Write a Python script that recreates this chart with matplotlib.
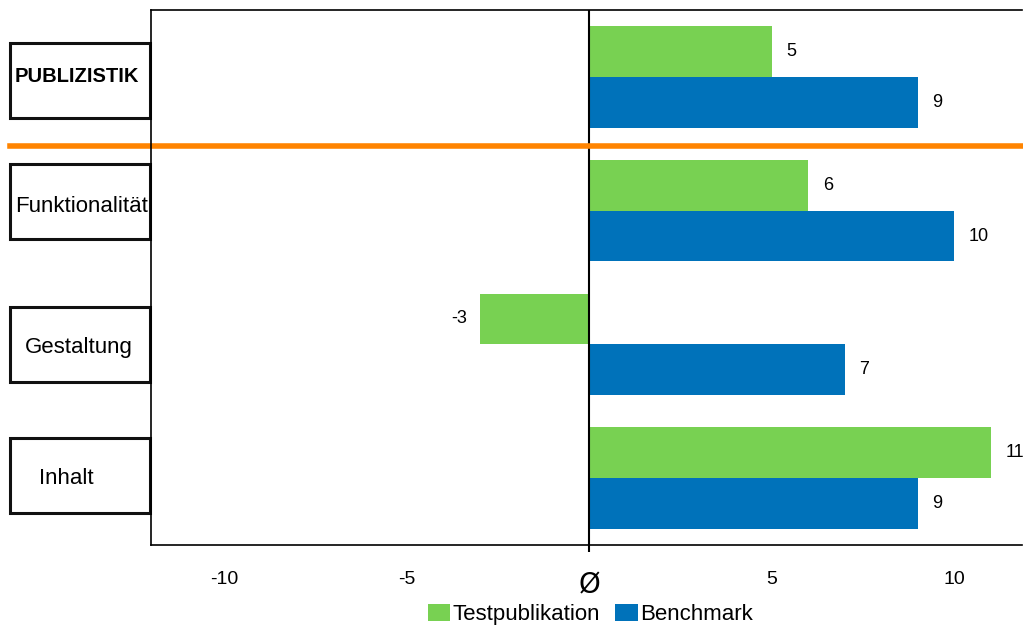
import matplotlib.pyplot as plt
from matplotlib.patches import Rectangle

categories = ["PUBLIZISTIK", "Funktionalität", "Gestaltung", "Inhalt"]
testpublikation = [5, 6, -3, 11]
benchmark = [9, 10, 7, 9]
xticks = [-10, -5, 0, 5, 10]
xticklabels = ["-10", "-5", "Ø", "5", "10"]

green = "#78D152"
blue = "#0072BA"
orange = "#FF8400"

plt.rcParams["font.family"] = ["Liberation Sans", "DejaVu Sans"]

W, H = 1023, 630
fig = plt.figure(figsize=(W / 100, H / 100), dpi=100)
ax = fig.add_axes([151 / W, 1 - 545 / H, 871 / W, 535 / H])

h = 0.38
ypos = list(range(len(categories)))
ax.barh([y - h / 2 for y in ypos], testpublikation, height=h, color=green, label="Testpublikation")
ax.barh([y + h / 2 for y in ypos], benchmark, height=h, color=blue, label="Benchmark")

# value labels
for y, v in zip(ypos, testpublikation):
    if v >= 0:
        ax.text(v + 0.4, y - h / 2, str(v), va="center", ha="left", fontsize=13)
    else:
        ax.text(v - 0.35, y - h / 2, str(v), va="center", ha="right", fontsize=13)
for y, v in zip(ypos, benchmark):
    ax.text(v + 0.4, y + h / 2, str(v), va="center", ha="left", fontsize=13)

ax.set_xlim(-12, 11.85)
ax.set_ylim(3.5, -0.5)
ax.axvline(0, color="black", lw=1.5)

ax.spines["right"].set_visible(False)
for s in ["top", "left", "bottom"]:
    ax.spines[s].set_linewidth(1.2)

ax.set_yticks([])
ax.set_xticks(xticks)
ax.set_xticklabels(xticklabels, fontsize=14)
ax.tick_params(axis="x", length=0, pad=19)
for t, lab in zip(ax.xaxis.get_major_ticks(), xticklabels):
    if lab == "Ø":
        t.label1.set_fontsize(20)
        t.label1.set_family("DejaVu Sans")
        t.tick1line.set_markersize(5)
        t.tick1line.set_markeredgewidth(1.5)

# orange separator between headline and the rest (figure pixel y=146)
ax.plot([-141 / 871, 1.0], [(545 - 146) / 535] * 2, transform=ax.transAxes, color=orange,
        lw=4, clip_on=False)

# category label boxes (pixel layout)
box_cy = [80.5, 201, 344.5, 475.5]
text_cy = [77, 207, 347, 479]
label_x = [15, 15, 79, 39]
label_ha = ["left", "left", "center", "left"]
bh = 75
for name, by, ty, lx, ha in zip(categories, box_cy, text_cy, label_x, label_ha):
    ax.add_patch(Rectangle(((10 - 151) / 871, (545 - by - bh / 2) / 535), 140 / 871, bh / 535,
                           transform=ax.transAxes, fill=False, edgecolor="#111111",
                           lw=2.2, clip_on=False))
    ax.text((lx - 151) / 871, (545 - ty) / 535, name, transform=ax.transAxes, ha=ha,
            va="center", fontsize=16 if name != "PUBLIZISTIK" else 14.5,
            fontweight="bold" if name == "PUBLIZISTIK" else "normal")

fig.legend(loc="lower center", bbox_to_anchor=(0.577, -0.024), ncol=2, frameon=False,
           fontsize=16, handlelength=1.0, handleheight=0.8, handletextpad=0.1,
           columnspacing=0.7)

fig.savefig("out.png", dpi=100)
